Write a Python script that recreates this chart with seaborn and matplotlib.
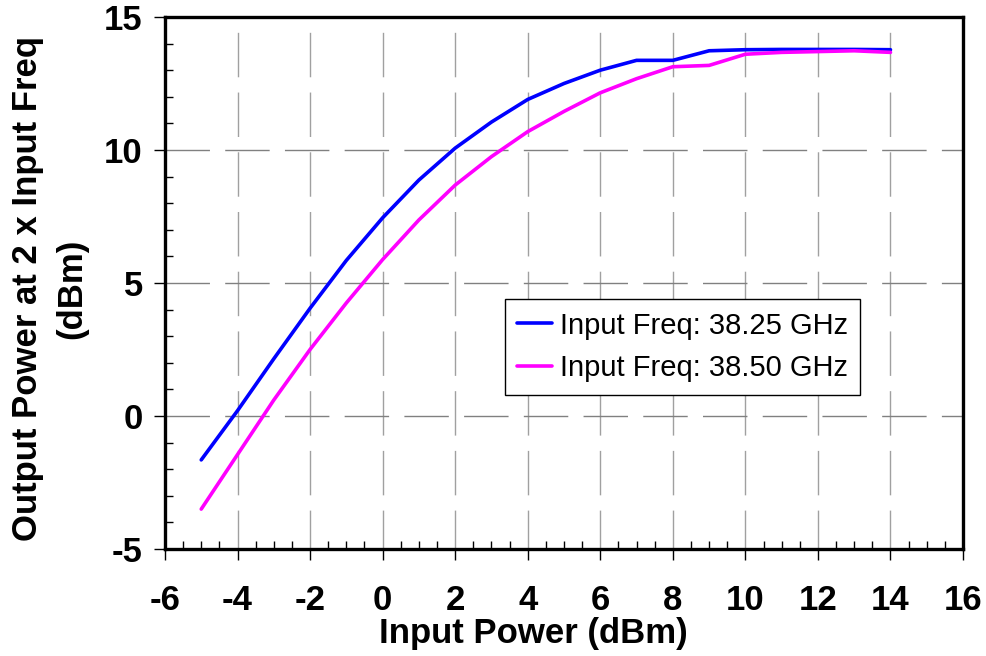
import numpy as np
import pandas as pd
import matplotlib
matplotlib.use('Agg')
import matplotlib.pyplot as plt
from matplotlib.ticker import MultipleLocator
import seaborn as sns

input_power = [-5, -4, -3, -2, -1, 0, 1, 2, 3, 4, 5, 6, 7, 8, 9, 10, 11, 12, 13, 14]
out_3825 = [-1.65, 0.2, 2.15, 4.05, 5.85, 7.45, 8.87, 10.07, 11.05, 11.9,
            12.5, 13.0, 13.37, 13.37, 13.73, 13.77, 13.78, 13.78, 13.78, 13.77]
out_3850 = [-3.5, -1.45, 0.6, 2.5, 4.25, 5.88, 7.37, 8.68, 9.75, 10.69,
            11.45, 12.15, 12.68, 13.13, 13.18, 13.6, 13.67, 13.7, 13.73, 13.67]
labels = ['Input Freq: 38.25 GHz', 'Input Freq: 38.50 GHz']
colors = ['#0000FF', '#FF00FF']

df = pd.concat([
    pd.DataFrame({'x': input_power, 'y': out_3825, 'freq': labels[0]}),
    pd.DataFrame({'x': input_power, 'y': out_3850, 'freq': labels[1]}),
])

sns.set_style('white')
plt.rcParams['font.family'] = ['Liberation Sans', 'DejaVu Sans']
plt.rcParams['axes.unicode_minus'] = False
plt.rcParams['text.color'] = 'black'
plt.rcParams['axes.labelcolor'] = 'black'
plt.rcParams['xtick.color'] = 'black'
plt.rcParams['ytick.color'] = 'black'

fig = plt.figure(figsize=(9.86, 6.56), dpi=100)
ax = fig.add_axes([0.1673, 0.1631, 0.8094, 0.811])

sns.lineplot(data=df, x='x', y='y', hue='freq', palette=dict(zip(labels, colors)),
             lw=2.6, ax=ax, legend=False)

ax.set_xlim(-6, 16)
ax.set_ylim(-5, 15)
ax.xaxis.set_major_locator(MultipleLocator(2))
ax.xaxis.set_minor_locator(MultipleLocator(0.5))
ax.yaxis.set_major_locator(MultipleLocator(5))
ax.yaxis.set_minor_locator(MultipleLocator(1))

ax.grid(True, which='major', axis='x', color='#a0a0a0', lw=1.0, linestyle=(4, (32, 11)))
ax.grid(True, which='major', axis='y', color='#808080', lw=1.0, linestyle=(0, (32, 11)))

for s in ax.spines.values():
    s.set_color('black')
    s.set_linewidth(2.4)

ax.tick_params(which='major', direction='out', length=8, width=1, color='black',
               labelsize=25, labelcolor='black', pad=8, bottom=True, left=True)
ax.tick_params(axis='x', which='major', pad=17)
ax.tick_params(which='minor', direction='in', length=6, width=1, color='black',
               bottom=True, left=True)
for lab in ax.get_xticklabels() + ax.get_yticklabels():
    lab.set_fontweight('bold')

ax.set_xlabel('Input Power (dBm)', fontsize=25, fontweight='bold', color='black')
ax.xaxis.set_label_coords(0.462, -0.128)
ax.set_ylabel('Output Power at 2 x Input Freq\n(dBm)', fontsize=25, fontweight='bold',
              color='black', linespacing=1.45)
ax.yaxis.set_label_coords(-0.096, 0.489)

handles = [plt.Line2D([], [], color=c, lw=2.6) for c in colors]
leg = ax.legend(handles, labels, loc='upper left', bbox_to_anchor=(0.426, 0.47),
                fontsize=21, frameon=True, fancybox=False, framealpha=1,
                edgecolor='black', handlelength=1.2, handletextpad=0.25,
                borderpad=0.43, labelspacing=0.5, borderaxespad=0)
leg.get_frame().set_linewidth(1.0)
for t in leg.get_texts():
    t.set_color('black')

fig.savefig('out.png', dpi=100)
